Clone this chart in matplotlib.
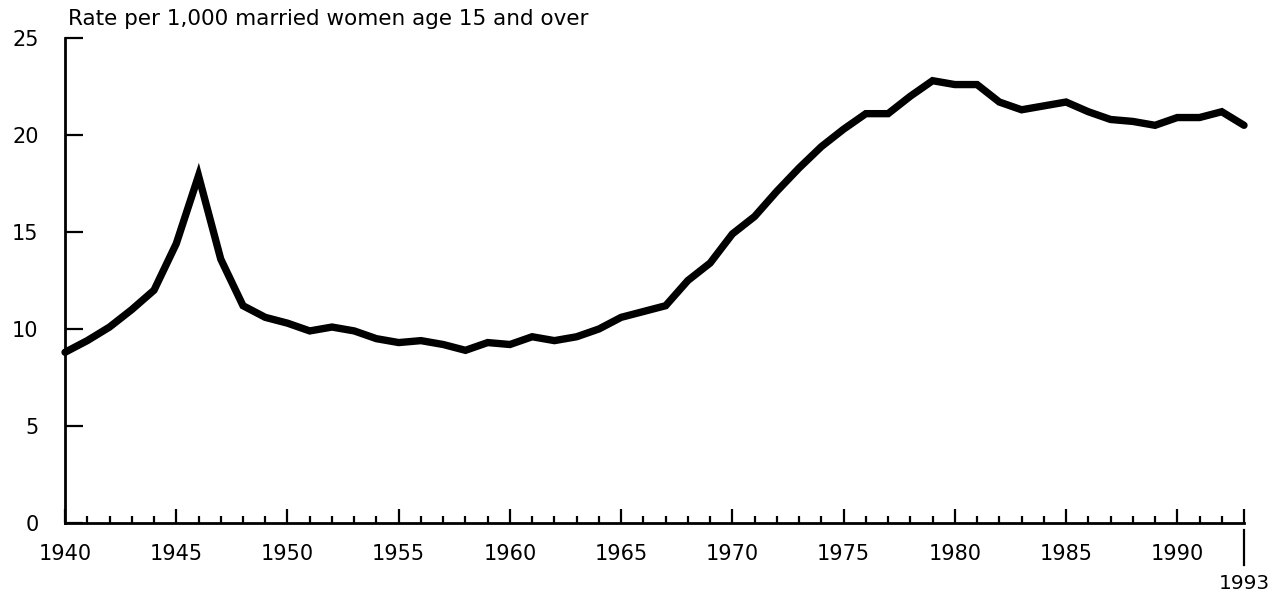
import matplotlib.pyplot as plt

plt.rcParams['font.family'] = ['DejaVu Sans']

years = list(range(1940, 1994))
rate = [8.8, 9.4, 10.1, 11.0, 12.0, 14.4, 17.9, 13.6, 11.2, 10.6,
        10.3, 9.9, 10.1, 9.9, 9.5, 9.3, 9.4, 9.2, 8.9, 9.3,
        9.2, 9.6, 9.4, 9.6, 10.0, 10.6, 10.9, 11.2, 12.5, 13.4,
        14.9, 15.8, 17.1, 18.3, 19.4, 20.3, 21.1, 21.1, 22.0, 22.8,
        22.6, 22.6, 21.7, 21.3, 21.5, 21.7, 21.2, 20.8, 20.7, 20.5,
        20.9, 20.9, 21.2, 20.5]
x_major = [1940, 1945, 1950, 1955, 1960, 1965, 1970, 1975, 1980, 1985, 1990]
y_major = [0, 5, 10, 15, 20, 25]

fig = plt.figure(figsize=(12.78, 5.92), dpi=100)
ax = fig.add_axes([0.0509, 0.1166, 0.9225, 0.8192])

ax.plot(years, rate, color='black', linewidth=5.3, solid_joinstyle='miter',
        solid_capstyle='round', clip_on=False, zorder=3)

ax.set_xlim(1940, 1993)
ax.set_ylim(0, 25)

for s in ['top', 'right']:
    ax.spines[s].set_visible(False)
for s in ['left', 'bottom']:
    ax.spines[s].set_linewidth(2)

ax.set_xticks(x_major + [1993])
ax.set_xticklabels([str(y) for y in x_major] + [''])
ax.set_xticks(years, minor=True)
ax.set_yticks(y_major)
ax.tick_params(axis='x', which='major', direction='in', length=10, width=1.6,
               pad=15, labelsize=15)
ax.tick_params(axis='x', which='minor', direction='in', length=5, width=1.6)
ax.tick_params(axis='y', which='major', direction='in', length=13, width=1.6,
               pad=19, labelsize=15)

# 1993 end marker below the axis
tr = ax.get_xaxis_transform()
ax.plot([1993, 1993], [-0.0144, -0.0866], color='black', linewidth=1.6,
        transform=tr, clip_on=False)
ax.text(1993, -0.136, '1993', transform=tr, ha='center', va='baseline',
        fontsize=14.5)

fig.text(0.0532, 0.9578, 'Rate per 1,000 married women age 15 and over',
         ha='left', va='baseline', fontsize=15.5)

fig.savefig('out.png', dpi=100)
